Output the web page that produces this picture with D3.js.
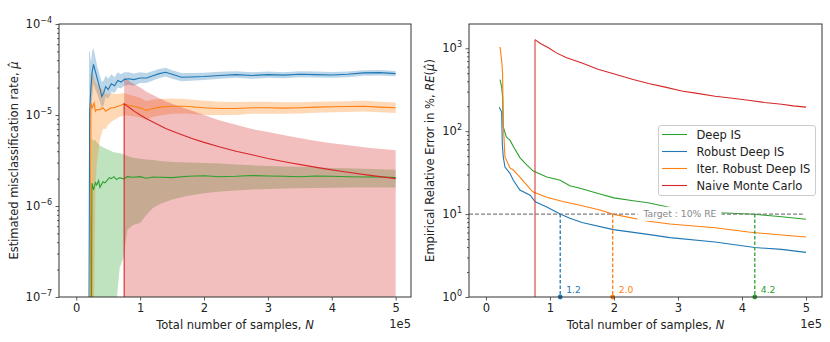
<!DOCTYPE html>
<html>
<head>
<meta charset="utf-8">
<script src="https://cdn.jsdelivr.net/npm/d3@7"></script>
<style>
  body { margin: 0; background: #fff; }
  svg { font-family: 'DejaVu Sans', sans-serif; }
</style>
</head>
<body>
<svg id="container"></svg>
<script>
// sample counts are in units of 1e5 (matches the axis offset text)

// ---- left panel: estimated misclassification rate ----
const nDeep = [0.24, 0.245, 0.27, 0.30, 0.32, 0.35, 0.37, 0.40, 0.42, 0.45, 0.48, 0.52, 0.55, 0.59, 0.63, 0.68, 0.74, 0.80, 0.89, 1.0, 1.1, 1.2, 1.31, 1.5, 1.75, 2.0, 2.25, 2.5, 2.75, 3.0, 3.25, 3.5, 3.75, 4.0, 4.25, 4.5, 4.75, 5.0]
const muDeep = [0, 1.78e-6, 1.5e-6, 1.8e-6, 1.7e-6, 1.9e-6, 1.6e-6, 1.75e-6, 1.85e-6, 1.8e-6, 1.9e-6, 2.05e-6, 2.0e-6, 2.1e-6, 1.95e-6, 2.05e-6, 1.98e-6, 2.1e-6, 2.07e-6, 2.1e-6, 2.02e-6, 2.08e-6, 2.07e-6, 2.05e-6, 2.12e-6, 2.15e-6, 2.1e-6, 2.12e-6, 2.16e-6, 2.14e-6, 2.12e-6, 2.1e-6, 2.14e-6, 2.12e-6, 2.1e-6, 2.08e-6, 2.1e-6, 2.05e-6]
const loDeep = [0, 0, 0, 0, 0, 0, 0, 0, 0, 0, 0, 0, 0, 0, 0, 2.1e-7, 2.7e-7, 5.5e-7, 6.2e-7, 6.5e-7, 8.0e-7, 9.5e-7, 1.05e-6, 1.18e-6, 1.3e-6, 1.38e-6, 1.44e-6, 1.48e-6, 1.52e-6, 1.54e-6, 1.56e-6, 1.57e-6, 1.58e-6, 1.59e-6, 1.6e-6, 1.6e-6, 1.6e-6, 1.6e-6]
const hiDeep = [5.5e-6, 5.5e-6, 5.2e-6, 5.3e-6, 5.0e-6, 4.8e-6, 4.6e-6, 4.5e-6, 4.4e-6, 4.3e-6, 4.2e-6, 4.1e-6, 4.0e-6, 3.9e-6, 3.85e-6, 3.8e-6, 3.7e-6, 3.55e-6, 3.4e-6, 3.3e-6, 3.25e-6, 3.2e-6, 3.12e-6, 3.05e-6, 3.0e-6, 2.97e-6, 2.93e-6, 2.85e-6, 2.8e-6, 2.75e-6, 2.72e-6, 2.7e-6, 2.66e-6, 2.62e-6, 2.6e-6, 2.57e-6, 2.54e-6, 2.5e-6]

const nRob = [0.20, 0.21, 0.23, 0.25, 0.27, 0.30, 0.33, 0.37, 0.40, 0.43, 0.46, 0.50, 0.55, 0.60, 0.65, 0.70, 0.75, 0.82, 0.90, 1.0, 1.1, 1.2, 1.3, 1.4, 1.5, 1.65, 1.8, 2.0, 2.25, 2.5, 2.75, 3.0, 3.25, 3.5, 3.75, 4.0, 4.25, 4.5, 4.75, 5.0]
const muRob = [0, 1.1e-5, 2.0e-5, 3.0e-5, 3.6e-5, 3.0e-5, 2.5e-5, 1.96e-5, 1.6e-5, 1.75e-5, 2.05e-5, 1.9e-5, 2.2e-5, 2.1e-5, 2.4e-5, 2.3e-5, 2.45e-5, 2.5e-5, 2.45e-5, 2.55e-5, 2.55e-5, 2.7e-5, 2.85e-5, 2.95e-5, 2.8e-5, 2.6e-5, 2.62e-5, 2.65e-5, 2.72e-5, 2.78e-5, 2.72e-5, 2.78e-5, 2.74e-5, 2.8e-5, 2.78e-5, 2.75e-5, 2.8e-5, 2.9e-5, 2.92e-5, 2.85e-5]
const loRob = [0, 5e-6, 1.1e-5, 1.6e-5, 2.2e-5, 1.9e-5, 1.7e-5, 1.4e-5, 1.2e-5, 1.3e-5, 1.6e-5, 1.5e-5, 1.8e-5, 1.75e-5, 2.0e-5, 1.95e-5, 2.1e-5, 2.15e-5, 2.1e-5, 2.25e-5, 2.25e-5, 2.4e-5, 2.55e-5, 2.65e-5, 2.5e-5, 2.35e-5, 2.38e-5, 2.42e-5, 2.5e-5, 2.56e-5, 2.5e-5, 2.57e-5, 2.54e-5, 2.6e-5, 2.58e-5, 2.56e-5, 2.6e-5, 2.7e-5, 2.72e-5, 2.66e-5]
const hiRob = [5.0e-5, 5.0e-5, 3.8e-5, 5.0e-5, 5.5e-5, 4.3e-5, 3.4e-5, 2.7e-5, 2.3e-5, 2.4e-5, 2.7e-5, 2.5e-5, 2.8e-5, 2.6e-5, 2.95e-5, 2.8e-5, 2.95e-5, 2.95e-5, 2.85e-5, 2.95e-5, 2.9e-5, 3.05e-5, 3.2e-5, 3.3e-5, 3.1e-5, 2.9e-5, 2.9e-5, 2.92e-5, 2.98e-5, 3.02e-5, 2.95e-5, 3.0e-5, 2.95e-5, 3.02e-5, 3.0e-5, 2.96e-5, 3.0e-5, 3.1e-5, 3.12e-5, 3.05e-5]

const nIter = [0.22, 0.23, 0.25, 0.28, 0.30, 0.32, 0.37, 0.42, 0.46, 0.50, 0.55, 0.60, 0.65, 0.70, 0.75, 0.82, 0.90, 1.0, 1.1, 1.2, 1.31, 1.5, 1.7, 2.0, 2.25, 2.5, 2.75, 3.0, 3.25, 3.5, 3.75, 4.0, 4.25, 4.5, 4.75, 5.0]
const muIter = [0, 1.35e-5, 1.2e-5, 1.35e-5, 1.1e-5, 1.15e-5, 1.14e-5, 1.2e-5, 1.1e-5, 1.15e-5, 1.2e-5, 1.2e-5, 1.25e-5, 1.28e-5, 1.32e-5, 1.28e-5, 1.25e-5, 1.2e-5, 1.12e-5, 1.18e-5, 1.22e-5, 1.25e-5, 1.25e-5, 1.2e-5, 1.18e-5, 1.18e-5, 1.2e-5, 1.2e-5, 1.19e-5, 1.2e-5, 1.22e-5, 1.23e-5, 1.24e-5, 1.25e-5, 1.22e-5, 1.2e-5]
const loIter = [0, 0, 0, 0, 1.5e-6, 2.9e-6, 5.3e-6, 7.0e-6, 7.0e-6, 7.8e-6, 8.5e-6, 8.8e-6, 9.3e-6, 9.6e-6, 1.0e-5, 9.8e-6, 9.7e-6, 9.4e-6, 8.9e-6, 9.5e-6, 9.9e-6, 1.03e-5, 1.04e-5, 1.0e-5, 1.0e-5, 1.0e-5, 1.03e-5, 1.03e-5, 1.03e-5, 1.04e-5, 1.06e-5, 1.07e-5, 1.08e-5, 1.09e-5, 1.07e-5, 1.05e-5]
const hiIter = [2.5e-5, 3.0e-5, 2.8e-5, 2.6e-5, 2.3e-5, 2.2e-5, 2.0e-5, 1.9e-5, 1.7e-5, 1.7e-5, 1.75e-5, 1.7e-5, 1.7e-5, 1.72e-5, 1.75e-5, 1.68e-5, 1.62e-5, 1.55e-5, 1.42e-5, 1.48e-5, 1.5e-5, 1.52e-5, 1.5e-5, 1.43e-5, 1.4e-5, 1.39e-5, 1.4e-5, 1.4e-5, 1.38e-5, 1.38e-5, 1.4e-5, 1.41e-5, 1.42e-5, 1.43e-5, 1.4e-5, 1.37e-5]

const nMC = [0.75, 0.75, 0.8, 0.85, 0.9, 1.0, 1.1, 1.2, 1.4, 1.6, 1.8, 2.0, 2.25, 2.5, 2.75, 3.0, 3.3, 3.6, 3.9, 4.2, 4.6, 5.0]
const muMC = [0, 1.33e-5, 1.25e-5, 1.18e-5, 1.11e-5, 1.0e-5, 9.1e-6, 8.4e-6, 7.1e-6, 6.25e-6, 5.55e-6, 5.0e-6, 4.45e-6, 4.0e-6, 3.65e-6, 3.33e-6, 3.03e-6, 2.78e-6, 2.56e-6, 2.38e-6, 2.17e-6, 2.0e-6]
const hiMC = [2.62e-5, 2.62e-5, 2.45e-5, 2.3e-5, 2.2e-5, 2.0e-5, 1.8e-5, 1.66e-5, 1.42e-5, 1.25e-5, 1.12e-5, 1.0e-5, 8.7e-6, 7.8e-6, 7.0e-6, 6.5e-6, 5.9e-6, 5.4e-6, 5.0e-6, 4.7e-6, 4.35e-6, 4.1e-6]

// ---- right panel: empirical relative error (%) ----
const nReDeep = [0.22, 0.245, 0.26, 0.27, 0.32, 0.375, 0.43, 0.53, 0.64, 0.74, 0.95, 1.16, 1.31, 1.47, 1.78, 2.0, 2.3, 2.53, 2.9, 3.2, 3.5, 3.73, 4.2, 4.62, 5.0]
const reDeep = [420, 343, 260, 113, 85, 78, 65, 48, 39, 33, 28, 25.6, 22, 20.5, 17.5, 15.7, 14.5, 13.7, 11.9, 11.0, 10.5, 10.3, 9.95, 9.3, 8.65]
const nReRob = [0.208, 0.245, 0.255, 0.27, 0.297, 0.375, 0.427, 0.53, 0.69, 0.77, 0.95, 1.16, 1.31, 1.5, 1.99, 2.53, 2.875, 3.58, 4.2, 4.62, 5.0]
const reRob = [195, 170, 71, 49, 37, 31, 25.6, 19.5, 16.9, 14.1, 12.2, 10.0, 8.9, 7.9, 6.5, 5.7, 5.2, 4.6, 3.95, 3.75, 3.45]
const nReIter = [0.22, 0.245, 0.26, 0.27, 0.297, 0.375, 0.427, 0.53, 0.73, 0.95, 1.2, 1.47, 1.78, 1.98, 2.54, 2.875, 3.06, 3.58, 4.1, 4.62, 5.0]
const reIter = [1037, 716, 500, 125, 49, 36, 34, 28, 18.6, 16, 14.2, 12.8, 11.2, 10.0, 8.2, 7.6, 7.4, 6.85, 6.07, 5.6, 5.3]
const nReMC = [0.766, 0.85, 0.97, 1.1, 1.25, 1.5, 1.75, 2.02, 2.3, 2.54, 2.8, 3.06, 3.3, 3.58, 3.85, 4.1, 4.35, 4.62, 4.8, 5.0]
const reMC = [1270, 1140, 1020, 880, 775, 665, 560, 486, 420, 376, 340, 306, 286, 264, 250, 236, 222, 211, 202, 195]

// target 10% RE and where each method reaches it
const targetRE = 10
const targetSpan = [-0.265, 4.95]
const targetLabelN = 3.03
const crossN = [1.16, 1.98, 4.2]
const crossLabels = ['1.2', '2.0', '4.2']
const crossKeys = ['rob', 'iter', 'deep']

const xTicks = [0, 1, 2, 3, 4, 5]
const legendNames = ['Deep IS', 'Robust Deep IS', 'Iter. Robust Deep IS', 'Naive Monte Carlo']
const legendKeys = ['deep', 'rob', 'iter', 'mc']

const colors = { deep: '#2ca02c', rob: '#1f77b4', iter: '#ff7f0e', mc: '#d62728' }
const axisColor = '#333'
const fs = 11.5

const svg = d3.select('#container').attr('width', 830).attr('height', 342)

function setupPanel(box, xDomain, yDomain, clipId) {
  const g = svg.append('g').attr('transform', `translate(${box.left},${box.top})`)
  const x = d3.scaleLinear().domain(xDomain).range([0, box.width])
  const y = d3.scaleLog().domain(yDomain).range([box.height, 0])
  g.append('defs')
    .append('clipPath')
    .attr('id', clipId)
    .append('rect')
    .attr('width', box.width)
    .attr('height', box.height)
  const body = g.append('g').attr('clip-path', `url(#${clipId})`)
  // zero values (log of 0) are pushed just below the bottom edge
  const yv = v => (v > 0 ? y(v) : box.height + 5)
  return { g, x, y, yv, body, box }
}

function supLabel(sel, exps) {
  sel.selectAll('.tick text').each(function (d, i) {
    const t = d3.select(this)
    t.text(null)
    t.append('tspan').text('10')
    t.append('tspan').attr('dy', -5).attr('font-size', 8).text(exps[i])
  })
}

function drawAxes(p, majors, exps, minors, xlab, ylabParts, ylabX) {
  const { g, box } = p
  // x axis
  const gx = g
    .append('g')
    .attr('transform', `translate(0,${box.height})`)
    .call(d3.axisBottom(p.x).tickValues(xTicks).tickFormat(d3.format('d')).tickSize(3.5).tickPadding(3.5))
  gx.select('.domain').remove()

  // y axis, minor + major
  const gyMinor = g.append('g').call(d3.axisLeft(p.y).tickValues(minors).tickFormat('').tickSize(2))
  gyMinor.select('.domain').remove()
  const gy = g.append('g').call(d3.axisLeft(p.y).tickValues(majors).tickFormat('').tickSize(3.5).tickPadding(3.5))
  gy.select('.domain').remove()
  supLabel(gy, exps)

  g.selectAll('.tick line').attr('stroke', axisColor).attr('stroke-width', 0.8)
  g.selectAll('.tick text').attr('fill', '#222')
  g.selectAll('g').filter(function () { return this.classList.length === 0 })
    .attr('font-family', 'DejaVu Sans').attr('font-size', fs)

  // frame
  g.append('rect')
    .attr('width', box.width)
    .attr('height', box.height)
    .attr('fill', 'none')
    .attr('stroke', axisColor)
    .attr('stroke-width', 1)

  // offset text
  g.append('text')
    .attr('x', box.width)
    .attr('y', box.height + 31)
    .attr('text-anchor', 'end')
    .attr('font-size', fs)
    .attr('fill', '#222')
    .text('1e5')

  // x label
  const xl = g.append('text')
    .attr('x', box.width / 2)
    .attr('y', box.height + 32)
    .attr('text-anchor', 'middle')
    .attr('font-size', fs)
    .attr('fill', '#222')
  xl.append('tspan').text(xlab)
  xl.append('tspan').attr('font-style', 'italic').text('N')

  // y label
  const yl = g.append('text')
    .attr('transform', `translate(${ylabX},${box.height / 2}) rotate(-90)`)
    .attr('text-anchor', 'middle')
    .attr('font-size', fs)
    .attr('fill', '#222')
  ylabParts.forEach(([s, it]) => {
    yl.append('tspan').attr('font-style', it ? 'italic' : null).text(s)
  })
}

function rows(ns, ...cols) {
  return ns.map((n, i) => ({ n, a: cols[0] ? cols[0][i] : null, b: cols[1] ? cols[1][i] : null }))
}

// ================= left panel =================
const L = setupPanel({ left: 59, top: 24, width: 352, height: 273 }, [-0.27, 5.24], [1e-7, 1e-4], 'clipL')

const bandL = (ns, lo, hi, key) => {
  L.body.append('path')
    .datum(rows(ns, lo, hi))
    .attr('fill', colors[key])
    .attr('fill-opacity', 0.3)
    .attr('d', d3.area().x(d => L.x(d.n)).y0(d => L.yv(d.a)).y1(d => L.yv(d.b)))
}
const lineL = (ns, mu, key) => {
  L.body.append('path')
    .datum(rows(ns, mu))
    .attr('fill', 'none')
    .attr('stroke', colors[key])
    .attr('stroke-width', 1.1)
    .attr('d', d3.line().x(d => L.x(d.n)).y(d => L.yv(d.a)))
}

bandL(nDeep, loDeep, hiDeep, 'deep')
bandL(nRob, loRob, hiRob, 'rob')
bandL(nIter, loIter, hiIter, 'iter')
bandL(nMC, nMC.map(() => 0), hiMC, 'mc')
lineL(nDeep, muDeep, 'deep')
lineL(nRob, muRob, 'rob')
lineL(nIter, muIter, 'iter')
lineL(nMC, muMC, 'mc')

const minorsL = []
;[1e-7, 1e-6, 1e-5].forEach(b => d3.range(2, 10).forEach(k => minorsL.push(b * k)))
drawAxes(L, [1e-7, 1e-6, 1e-5, 1e-4], ['\u22127', '\u22126', '\u22125', '\u22124'], minorsL,
  'Total number of samples, ', [['Estimated misclassification rate, ', false], ['\u03bc\u0302', true]], -41)

// ================= right panel =================
const R = setupPanel({ left: 469, top: 24, width: 353, height: 273 }, [-0.265, 5.25], [1, 1963], 'clipR')

const lineR = (ns, re, key) => {
  R.body.append('path')
    .datum(rows(ns, re))
    .attr('fill', 'none')
    .attr('stroke', colors[key])
    .attr('stroke-width', 1.1)
    .attr('d', d3.line().x(d => R.x(d.n)).y(d => R.yv(d.a)))
}
lineR(nReDeep, reDeep, 'deep')
lineR(nReRob, reRob, 'rob')
lineR(nReIter, reIter, 'iter')
lineR(nReMC, reMC, 'mc')

// vertical marker where naive MC sees its first failure
R.body.append('line')
  .attr('x1', R.x(nReMC[0]))
  .attr('x2', R.x(nReMC[0]))
  .attr('y1', R.y(1))
  .attr('y2', R.y(reMC[0]))
  .attr('stroke', colors.mc)
  .attr('stroke-opacity', 0.5)
  .attr('stroke-width', 2)

// target line
R.body.append('line')
  .attr('x1', R.x(targetSpan[0]))
  .attr('x2', R.x(targetSpan[1]))
  .attr('y1', R.y(targetRE))
  .attr('y2', R.y(targetRE))
  .attr('stroke', '#808080')
  .attr('stroke-width', 1.2)
  .attr('stroke-dasharray', '4,2')

// drop lines to the x axis
crossN.forEach((n, i) => {
  const c = colors[crossKeys[i]]
  R.g.append('line')
    .attr('x1', R.x(n))
    .attr('x2', R.x(n))
    .attr('y1', R.y(targetRE))
    .attr('y2', R.y(1))
    .attr('stroke', c)
    .attr('stroke-width', 1.3)
    .attr('stroke-dasharray', '3.5,2')
  R.g.append('circle')
    .attr('cx', R.x(n))
    .attr('cy', R.y(1))
    .attr('r', 2.4)
    .attr('fill', c)
  R.g.append('text')
    .attr('x', R.x(n) + 6)
    .attr('y', R.y(1) - 7)
    .attr('dy', '0.35em')
    .attr('font-size', 9.2)
    .attr('fill', c)
    .text(crossLabels[i])
})

// target label with white box
const tl = R.g.append('text')
  .attr('x', R.x(targetLabelN))
  .attr('y', R.y(targetRE))
  .attr('dy', '0.35em')
  .attr('text-anchor', 'middle')
  .attr('font-size', 9.2)
  .attr('fill', '#888')
  .text('Target : 10% RE')
const bb = tl.node().getBBox()
R.g.insert('rect', () => tl.node())
  .attr('x', bb.x - 5)
  .attr('y', bb.y - 1.5)
  .attr('width', bb.width + 10)
  .attr('height', bb.height + 3)
  .attr('fill', '#fff')

const minorsR = []
;[1, 10, 100].forEach(b => d3.range(2, 10).forEach(k => minorsR.push(b * k)))
drawAxes(R, [1, 10, 100, 1000], ['0', '1', '2', '3'], minorsR,
  'Total number of samples, ', [['Empirical Relative Error in %, ', false], ['RE', true], ['(', false], ['\u03bc\u0302', true], [')', false]], -35)

// legend
const lg = R.g.append('g').attr('transform', 'translate(189.5,101.5)')
lg.append('rect')
  .attr('width', 157)
  .attr('height', 70)
  .attr('rx', 2.5)
  .attr('fill', '#fff')
  .attr('fill-opacity', 0.8)
  .attr('stroke', '#ccc')
legendNames.forEach((name, i) => {
  const yy = 9 + i * 17
  lg.append('line')
    .attr('x1', 3.5).attr('x2', 28.5)
    .attr('y1', yy).attr('y2', yy)
    .attr('stroke', colors[legendKeys[i]])
    .attr('stroke-width', 1.1)
  lg.append('text')
    .attr('x', 38)
    .attr('y', yy)
    .attr('dy', '0.35em')
    .attr('font-size', fs)
    .attr('fill', '#222')
    .text(name)
})
</script>
</body>
</html>
